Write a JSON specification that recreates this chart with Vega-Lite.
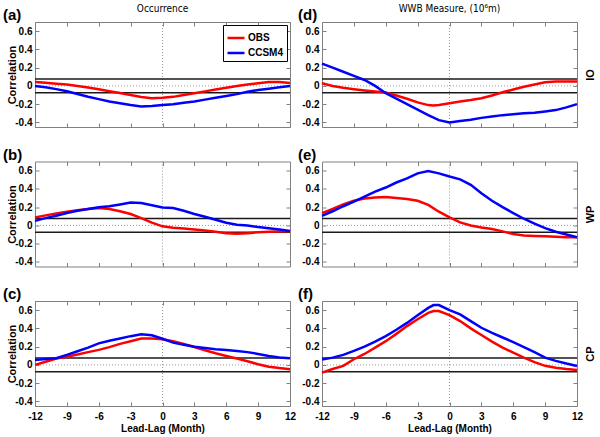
{
"$schema":"https://vega.github.io/schema/vega-lite/v6.json",
"padding":{"left":2,"top":3,"right":2,"bottom":2},
"background":"white",
"config":{"font":"Liberation Sans","view":{"stroke":"#808080","strokeWidth":1},
"axis":{"domain":false,"grid":false,"tickColor":"#808080","tickSize":-4,"tickWidth":1,"labelPadding":7,"labelFontSize":10,"labelFontWeight":"bold","labelColor":"#000","labelFlush":false,"labelOverlap":false,"titleFontWeight":"bold","titleFontSize":11,"titleColor":"#000"},
"axisX":{"labelPadding":9,"titlePadding":2,"titleFontSize":10},
"legend":{"orient":"top-right","offset":3,"padding":3,"strokeColor":"#000","fillColor":"white","symbolType":"stroke","symbolSize":289,"symbolStrokeWidth":2.5,"labelFontSize":10,"labelFontWeight":"bold","labelOffset":2,"rowPadding":0,"labelColor":"#000"}},
"resolve":{"scale":{"color":"independent"},"legend":{"color":"independent"}},
"datasets":{"corr":[
{"p":"a","s":"OBS","x":-12,"y":0.044},{"p":"a","s":"OBS","x":-11,"y":0.035},{"p":"a","s":"OBS","x":-10,"y":0.025},{"p":"a","s":"OBS","x":-9,"y":0.015},{"p":"a","s":"OBS","x":-8,"y":0.0},{"p":"a","s":"OBS","x":-7,"y":-0.018},{"p":"a","s":"OBS","x":-6,"y":-0.036},{"p":"a","s":"OBS","x":-5,"y":-0.058},{"p":"a","s":"OBS","x":-4,"y":-0.078},{"p":"a","s":"OBS","x":-3,"y":-0.1},{"p":"a","s":"OBS","x":-2,"y":-0.122},{"p":"a","s":"OBS","x":-1,"y":-0.135},{"p":"a","s":"OBS","x":0,"y":-0.13},{"p":"a","s":"OBS","x":1,"y":-0.12},{"p":"a","s":"OBS","x":2,"y":-0.1},{"p":"a","s":"OBS","x":3,"y":-0.08},{"p":"a","s":"OBS","x":4,"y":-0.06},{"p":"a","s":"OBS","x":5,"y":-0.04},{"p":"a","s":"OBS","x":6,"y":-0.02},{"p":"a","s":"OBS","x":7,"y":0.0},{"p":"a","s":"OBS","x":8,"y":0.015},{"p":"a","s":"OBS","x":9,"y":0.03},{"p":"a","s":"OBS","x":10,"y":0.044},{"p":"a","s":"OBS","x":11,"y":0.042},{"p":"a","s":"OBS","x":12,"y":0.033},
{"p":"a","s":"CCSM4","x":-12,"y":0.0},{"p":"a","s":"CCSM4","x":-11,"y":-0.015},{"p":"a","s":"CCSM4","x":-10,"y":-0.035},{"p":"a","s":"CCSM4","x":-9,"y":-0.058},{"p":"a","s":"CCSM4","x":-8,"y":-0.088},{"p":"a","s":"CCSM4","x":-7,"y":-0.118},{"p":"a","s":"CCSM4","x":-6,"y":-0.145},{"p":"a","s":"CCSM4","x":-5,"y":-0.17},{"p":"a","s":"CCSM4","x":-4,"y":-0.19},{"p":"a","s":"CCSM4","x":-3,"y":-0.21},{"p":"a","s":"CCSM4","x":-2,"y":-0.225},{"p":"a","s":"CCSM4","x":-1,"y":-0.22},{"p":"a","s":"CCSM4","x":0,"y":-0.21},{"p":"a","s":"CCSM4","x":1,"y":-0.2},{"p":"a","s":"CCSM4","x":2,"y":-0.185},{"p":"a","s":"CCSM4","x":3,"y":-0.17},{"p":"a","s":"CCSM4","x":4,"y":-0.15},{"p":"a","s":"CCSM4","x":5,"y":-0.13},{"p":"a","s":"CCSM4","x":6,"y":-0.11},{"p":"a","s":"CCSM4","x":7,"y":-0.09},{"p":"a","s":"CCSM4","x":8,"y":-0.065},{"p":"a","s":"CCSM4","x":9,"y":-0.045},{"p":"a","s":"CCSM4","x":10,"y":-0.03},{"p":"a","s":"CCSM4","x":11,"y":-0.015},{"p":"a","s":"CCSM4","x":12,"y":0.0},
{"p":"d","s":"OBS","x":-12,"y":0.03},{"p":"d","s":"OBS","x":-11,"y":0.0},{"p":"d","s":"OBS","x":-10,"y":-0.02},{"p":"d","s":"OBS","x":-9,"y":-0.036},{"p":"d","s":"OBS","x":-8,"y":-0.05},{"p":"d","s":"OBS","x":-7,"y":-0.062},{"p":"d","s":"OBS","x":-6,"y":-0.073},{"p":"d","s":"OBS","x":-5,"y":-0.105},{"p":"d","s":"OBS","x":-4,"y":-0.14},{"p":"d","s":"OBS","x":-3,"y":-0.18},{"p":"d","s":"OBS","x":-2,"y":-0.21},{"p":"d","s":"OBS","x":-1.5,"y":-0.215},{"p":"d","s":"OBS","x":-1,"y":-0.21},{"p":"d","s":"OBS","x":0,"y":-0.19},{"p":"d","s":"OBS","x":1,"y":-0.17},{"p":"d","s":"OBS","x":2,"y":-0.155},{"p":"d","s":"OBS","x":3,"y":-0.135},{"p":"d","s":"OBS","x":4,"y":-0.105},{"p":"d","s":"OBS","x":5,"y":-0.07},{"p":"d","s":"OBS","x":6,"y":-0.04},{"p":"d","s":"OBS","x":7,"y":-0.01},{"p":"d","s":"OBS","x":8,"y":0.015},{"p":"d","s":"OBS","x":9,"y":0.04},{"p":"d","s":"OBS","x":10,"y":0.047},{"p":"d","s":"OBS","x":11,"y":0.047},{"p":"d","s":"OBS","x":12,"y":0.047},
{"p":"d","s":"CCSM4","x":-12,"y":0.244},{"p":"d","s":"CCSM4","x":-11,"y":0.2},{"p":"d","s":"CCSM4","x":-10,"y":0.155},{"p":"d","s":"CCSM4","x":-9,"y":0.11},{"p":"d","s":"CCSM4","x":-8,"y":0.065},{"p":"d","s":"CCSM4","x":-7,"y":0.0},{"p":"d","s":"CCSM4","x":-6,"y":-0.08},{"p":"d","s":"CCSM4","x":-5,"y":-0.14},{"p":"d","s":"CCSM4","x":-4,"y":-0.2},{"p":"d","s":"CCSM4","x":-3,"y":-0.26},{"p":"d","s":"CCSM4","x":-2,"y":-0.32},{"p":"d","s":"CCSM4","x":-1,"y":-0.375},{"p":"d","s":"CCSM4","x":0,"y":-0.4},{"p":"d","s":"CCSM4","x":1,"y":-0.385},{"p":"d","s":"CCSM4","x":2,"y":-0.37},{"p":"d","s":"CCSM4","x":3,"y":-0.35},{"p":"d","s":"CCSM4","x":4,"y":-0.335},{"p":"d","s":"CCSM4","x":5,"y":-0.32},{"p":"d","s":"CCSM4","x":6,"y":-0.31},{"p":"d","s":"CCSM4","x":7,"y":-0.3},{"p":"d","s":"CCSM4","x":8,"y":-0.295},{"p":"d","s":"CCSM4","x":9,"y":-0.28},{"p":"d","s":"CCSM4","x":10,"y":-0.265},{"p":"d","s":"CCSM4","x":11,"y":-0.235},{"p":"d","s":"CCSM4","x":12,"y":-0.2},
{"p":"b","s":"OBS","x":-12,"y":0.087},{"p":"b","s":"OBS","x":-11,"y":0.11},{"p":"b","s":"OBS","x":-10,"y":0.13},{"p":"b","s":"OBS","x":-9,"y":0.15},{"p":"b","s":"OBS","x":-8,"y":0.165},{"p":"b","s":"OBS","x":-7,"y":0.18},{"p":"b","s":"OBS","x":-6,"y":0.19},{"p":"b","s":"OBS","x":-5,"y":0.18},{"p":"b","s":"OBS","x":-4,"y":0.155},{"p":"b","s":"OBS","x":-3,"y":0.125},{"p":"b","s":"OBS","x":-2,"y":0.08},{"p":"b","s":"OBS","x":-1,"y":0.03},{"p":"b","s":"OBS","x":0,"y":-0.01},{"p":"b","s":"OBS","x":1,"y":-0.025},{"p":"b","s":"OBS","x":2,"y":-0.035},{"p":"b","s":"OBS","x":3,"y":-0.045},{"p":"b","s":"OBS","x":4,"y":-0.055},{"p":"b","s":"OBS","x":5,"y":-0.07},{"p":"b","s":"OBS","x":6,"y":-0.085},{"p":"b","s":"OBS","x":7,"y":-0.09},{"p":"b","s":"OBS","x":8,"y":-0.085},{"p":"b","s":"OBS","x":9,"y":-0.075},{"p":"b","s":"OBS","x":10,"y":-0.07},{"p":"b","s":"OBS","x":11,"y":-0.068},{"p":"b","s":"OBS","x":12,"y":-0.065},
{"p":"b","s":"CCSM4","x":-12,"y":0.05},{"p":"b","s":"CCSM4","x":-11,"y":0.08},{"p":"b","s":"CCSM4","x":-10,"y":0.105},{"p":"b","s":"CCSM4","x":-9,"y":0.135},{"p":"b","s":"CCSM4","x":-8,"y":0.16},{"p":"b","s":"CCSM4","x":-7,"y":0.18},{"p":"b","s":"CCSM4","x":-6,"y":0.2},{"p":"b","s":"CCSM4","x":-5,"y":0.21},{"p":"b","s":"CCSM4","x":-4,"y":0.23},{"p":"b","s":"CCSM4","x":-3,"y":0.25},{"p":"b","s":"CCSM4","x":-2,"y":0.245},{"p":"b","s":"CCSM4","x":-1,"y":0.22},{"p":"b","s":"CCSM4","x":0,"y":0.196},{"p":"b","s":"CCSM4","x":1,"y":0.19},{"p":"b","s":"CCSM4","x":2,"y":0.16},{"p":"b","s":"CCSM4","x":3,"y":0.125},{"p":"b","s":"CCSM4","x":4,"y":0.095},{"p":"b","s":"CCSM4","x":5,"y":0.062},{"p":"b","s":"CCSM4","x":6,"y":0.03},{"p":"b","s":"CCSM4","x":7,"y":0.007},{"p":"b","s":"CCSM4","x":8,"y":0.0},{"p":"b","s":"CCSM4","x":9,"y":-0.018},{"p":"b","s":"CCSM4","x":10,"y":-0.03},{"p":"b","s":"CCSM4","x":11,"y":-0.045},{"p":"b","s":"CCSM4","x":12,"y":-0.06},
{"p":"e","s":"OBS","x":-12,"y":0.135},{"p":"e","s":"OBS","x":-11,"y":0.18},{"p":"e","s":"OBS","x":-10,"y":0.23},{"p":"e","s":"OBS","x":-9,"y":0.27},{"p":"e","s":"OBS","x":-8,"y":0.295},{"p":"e","s":"OBS","x":-7,"y":0.305},{"p":"e","s":"OBS","x":-6,"y":0.31},{"p":"e","s":"OBS","x":-5,"y":0.3},{"p":"e","s":"OBS","x":-4,"y":0.29},{"p":"e","s":"OBS","x":-3,"y":0.27},{"p":"e","s":"OBS","x":-2,"y":0.225},{"p":"e","s":"OBS","x":-1,"y":0.15},{"p":"e","s":"OBS","x":0,"y":0.087},{"p":"e","s":"OBS","x":1,"y":0.033},{"p":"e","s":"OBS","x":2,"y":0.0},{"p":"e","s":"OBS","x":3,"y":-0.022},{"p":"e","s":"OBS","x":4,"y":-0.04},{"p":"e","s":"OBS","x":5,"y":-0.065},{"p":"e","s":"OBS","x":6,"y":-0.095},{"p":"e","s":"OBS","x":7,"y":-0.11},{"p":"e","s":"OBS","x":8,"y":-0.115},{"p":"e","s":"OBS","x":9,"y":-0.12},{"p":"e","s":"OBS","x":10,"y":-0.125},{"p":"e","s":"OBS","x":11,"y":-0.13},{"p":"e","s":"OBS","x":12,"y":-0.13},
{"p":"e","s":"CCSM4","x":-12,"y":0.105},{"p":"e","s":"CCSM4","x":-11,"y":0.155},{"p":"e","s":"CCSM4","x":-10,"y":0.21},{"p":"e","s":"CCSM4","x":-9,"y":0.26},{"p":"e","s":"CCSM4","x":-8,"y":0.315},{"p":"e","s":"CCSM4","x":-7,"y":0.37},{"p":"e","s":"CCSM4","x":-6,"y":0.415},{"p":"e","s":"CCSM4","x":-5,"y":0.47},{"p":"e","s":"CCSM4","x":-4,"y":0.515},{"p":"e","s":"CCSM4","x":-3,"y":0.57},{"p":"e","s":"CCSM4","x":-2,"y":0.595},{"p":"e","s":"CCSM4","x":-1,"y":0.57},{"p":"e","s":"CCSM4","x":0,"y":0.535},{"p":"e","s":"CCSM4","x":1,"y":0.505},{"p":"e","s":"CCSM4","x":2,"y":0.445},{"p":"e","s":"CCSM4","x":3,"y":0.353},{"p":"e","s":"CCSM4","x":4,"y":0.27},{"p":"e","s":"CCSM4","x":5,"y":0.2},{"p":"e","s":"CCSM4","x":6,"y":0.135},{"p":"e","s":"CCSM4","x":7,"y":0.073},{"p":"e","s":"CCSM4","x":8,"y":0.02},{"p":"e","s":"CCSM4","x":9,"y":-0.03},{"p":"e","s":"CCSM4","x":10,"y":-0.07},{"p":"e","s":"CCSM4","x":11,"y":-0.1},{"p":"e","s":"CCSM4","x":12,"y":-0.13},
{"p":"c","s":"OBS","x":-12,"y":0.0},{"p":"c","s":"OBS","x":-11,"y":0.035},{"p":"c","s":"OBS","x":-10,"y":0.07},{"p":"c","s":"OBS","x":-9,"y":0.09},{"p":"c","s":"OBS","x":-8,"y":0.115},{"p":"c","s":"OBS","x":-7,"y":0.14},{"p":"c","s":"OBS","x":-6,"y":0.165},{"p":"c","s":"OBS","x":-5,"y":0.195},{"p":"c","s":"OBS","x":-4,"y":0.23},{"p":"c","s":"OBS","x":-3,"y":0.26},{"p":"c","s":"OBS","x":-2,"y":0.29},{"p":"c","s":"OBS","x":-1,"y":0.29},{"p":"c","s":"OBS","x":0,"y":0.28},{"p":"c","s":"OBS","x":1,"y":0.26},{"p":"c","s":"OBS","x":2,"y":0.23},{"p":"c","s":"OBS","x":3,"y":0.196},{"p":"c","s":"OBS","x":4,"y":0.16},{"p":"c","s":"OBS","x":5,"y":0.127},{"p":"c","s":"OBS","x":6,"y":0.098},{"p":"c","s":"OBS","x":7,"y":0.07},{"p":"c","s":"OBS","x":8,"y":0.04},{"p":"c","s":"OBS","x":9,"y":0.007},{"p":"c","s":"OBS","x":10,"y":-0.02},{"p":"c","s":"OBS","x":11,"y":-0.035},{"p":"c","s":"OBS","x":12,"y":-0.047},
{"p":"c","s":"CCSM4","x":-12,"y":0.055},{"p":"c","s":"CCSM4","x":-11,"y":0.065},{"p":"c","s":"CCSM4","x":-10,"y":0.073},{"p":"c","s":"CCSM4","x":-9,"y":0.11},{"p":"c","s":"CCSM4","x":-8,"y":0.15},{"p":"c","s":"CCSM4","x":-7,"y":0.19},{"p":"c","s":"CCSM4","x":-6,"y":0.236},{"p":"c","s":"CCSM4","x":-5,"y":0.265},{"p":"c","s":"CCSM4","x":-4,"y":0.29},{"p":"c","s":"CCSM4","x":-3,"y":0.315},{"p":"c","s":"CCSM4","x":-2,"y":0.335},{"p":"c","s":"CCSM4","x":-1,"y":0.325},{"p":"c","s":"CCSM4","x":0,"y":0.287},{"p":"c","s":"CCSM4","x":1,"y":0.244},{"p":"c","s":"CCSM4","x":2,"y":0.22},{"p":"c","s":"CCSM4","x":3,"y":0.2},{"p":"c","s":"CCSM4","x":4,"y":0.185},{"p":"c","s":"CCSM4","x":5,"y":0.171},{"p":"c","s":"CCSM4","x":6,"y":0.164},{"p":"c","s":"CCSM4","x":7,"y":0.152},{"p":"c","s":"CCSM4","x":8,"y":0.14},{"p":"c","s":"CCSM4","x":9,"y":0.12},{"p":"c","s":"CCSM4","x":10,"y":0.098},{"p":"c","s":"CCSM4","x":11,"y":0.08},{"p":"c","s":"CCSM4","x":12,"y":0.073},
{"p":"f","s":"OBS","x":-12,"y":-0.084},{"p":"f","s":"OBS","x":-11,"y":-0.045},{"p":"f","s":"OBS","x":-10,"y":-0.01},{"p":"f","s":"OBS","x":-9,"y":0.062},{"p":"f","s":"OBS","x":-8,"y":0.12},{"p":"f","s":"OBS","x":-7,"y":0.19},{"p":"f","s":"OBS","x":-6,"y":0.26},{"p":"f","s":"OBS","x":-5,"y":0.34},{"p":"f","s":"OBS","x":-4,"y":0.425},{"p":"f","s":"OBS","x":-3,"y":0.5},{"p":"f","s":"OBS","x":-2,"y":0.57},{"p":"f","s":"OBS","x":-1.5,"y":0.59},{"p":"f","s":"OBS","x":-1,"y":0.59},{"p":"f","s":"OBS","x":0,"y":0.545},{"p":"f","s":"OBS","x":1,"y":0.48},{"p":"f","s":"OBS","x":2,"y":0.4},{"p":"f","s":"OBS","x":3,"y":0.327},{"p":"f","s":"OBS","x":4,"y":0.255},{"p":"f","s":"OBS","x":5,"y":0.19},{"p":"f","s":"OBS","x":6,"y":0.135},{"p":"f","s":"OBS","x":7,"y":0.08},{"p":"f","s":"OBS","x":8,"y":0.03},{"p":"f","s":"OBS","x":9,"y":-0.01},{"p":"f","s":"OBS","x":10,"y":-0.03},{"p":"f","s":"OBS","x":11,"y":-0.045},{"p":"f","s":"OBS","x":12,"y":-0.055},
{"p":"f","s":"CCSM4","x":-12,"y":0.058},{"p":"f","s":"CCSM4","x":-11,"y":0.08},{"p":"f","s":"CCSM4","x":-10,"y":0.11},{"p":"f","s":"CCSM4","x":-9,"y":0.153},{"p":"f","s":"CCSM4","x":-8,"y":0.2},{"p":"f","s":"CCSM4","x":-7,"y":0.255},{"p":"f","s":"CCSM4","x":-6,"y":0.316},{"p":"f","s":"CCSM4","x":-5,"y":0.385},{"p":"f","s":"CCSM4","x":-4,"y":0.46},{"p":"f","s":"CCSM4","x":-3,"y":0.545},{"p":"f","s":"CCSM4","x":-2,"y":0.625},{"p":"f","s":"CCSM4","x":-1.5,"y":0.655},{"p":"f","s":"CCSM4","x":-1,"y":0.655},{"p":"f","s":"CCSM4","x":0,"y":0.6},{"p":"f","s":"CCSM4","x":1,"y":0.553},{"p":"f","s":"CCSM4","x":2,"y":0.48},{"p":"f","s":"CCSM4","x":3,"y":0.407},{"p":"f","s":"CCSM4","x":4,"y":0.35},{"p":"f","s":"CCSM4","x":5,"y":0.3},{"p":"f","s":"CCSM4","x":6,"y":0.25},{"p":"f","s":"CCSM4","x":7,"y":0.196},{"p":"f","s":"CCSM4","x":8,"y":0.14},{"p":"f","s":"CCSM4","x":9,"y":0.08},{"p":"f","s":"CCSM4","x":10,"y":0.044},{"p":"f","s":"CCSM4","x":11,"y":0.015},{"p":"f","s":"CCSM4","x":12,"y":-0.011}
]},
"columns":2,
"bounds":"flush",
"spacing":{"row":34.5,"column":32},
"concat":[
{"width":255,"height":105,"resolve":{"axis":{"x":"independent","y":"independent"}},"layer":[
{"data":{"values":[{}]},"mark":{"type":"rule","color":"#9a9a9a","strokeDash":[1,2],"strokeWidth":1},"encoding":{"y":{"datum":0,"type":"quantitative","scale":{"domain":[-0.45,0.7],"nice":false,"zero":false},"axis":{"orient":"right","labels":false,"values":[-0.4,-0.2,0,0.2,0.4,0.6],"title":null}}}},
{"data":{"values":[{}]},"mark":{"type":"rule","color":"#9a9a9a","strokeDash":[1,2],"strokeWidth":1},"encoding":{"x":{"datum":0,"type":"quantitative","scale":{"domain":[-12,12],"nice":false,"zero":false},"axis":{"orient":"top","labels":false,"values":[-12,-9,-6,-3,0,3,6,9,12],"title":null}}}},
{"data":{"values":[{}]},"mark":{"type":"rule","color":"#1a1a1a","strokeWidth":1.5},"encoding":{"y":{"datum":0.075,"type":"quantitative","scale":{"domain":[-0.45,0.7],"nice":false,"zero":false},"axis":null}}},
{"data":{"values":[{}]},"mark":{"type":"rule","color":"#1a1a1a","strokeWidth":1.5},"encoding":{"y":{"datum":-0.075,"type":"quantitative","scale":{"domain":[-0.45,0.7],"nice":false,"zero":false},"axis":null}}},
{"data":{"name":"corr"},"transform":[{"filter":"datum.p==='a'"}],"mark":{"type":"line","strokeWidth":2.5},"encoding":{"x":{"field":"x","type":"quantitative","scale":{"domain":[-12,12],"nice":false,"zero":false},"axis":{"orient":"bottom","labels":false,"values":[-12,-9,-6,-3,0,3,6,9,12],"title":null}},"y":{"field":"y","type":"quantitative","scale":{"domain":[-0.45,0.7],"nice":false,"zero":false},"axis":{"orient":"left","values":[-0.4,-0.2,0,0.2,0.4,0.6],"labelExpr":"toString(datum.value)","title":"Correlation","titleX":-23,"titleBaseline":"middle"}},"color":{"field":"s","type":"nominal","scale":{"domain":["OBS","CCSM4"],"range":["#ff0000","#0000ff"]},"legend":{"title":null}}}},
{"data":{"values":[{}]},"mark":{"type":"text","text":"(a)","align":"left","baseline":"middle","dx":-32,"dy":-7,"fontSize":15,"fontWeight":"bold"},"encoding":{"x":{"datum":-12,"type":"quantitative","scale":{"domain":[-12,12],"nice":false,"zero":false},"axis":null},"y":{"datum":0.7,"type":"quantitative","scale":{"domain":[-0.45,0.7],"nice":false,"zero":false},"axis":null}}},
{"data":{"values":[{}]},"mark":{"type":"text","text":"Occurrence","align":"center","baseline":"bottom","dy":-8,"fontSize":10,"font":"DejaVu Sans Condensed"},"encoding":{"x":{"datum":0,"type":"quantitative","scale":{"domain":[-12,12],"nice":false,"zero":false},"axis":null},"y":{"datum":0.7,"type":"quantitative","scale":{"domain":[-0.45,0.7],"nice":false,"zero":false},"axis":null}}}
]},
{"width":255,"height":105,"resolve":{"axis":{"x":"independent","y":"independent"}},"layer":[
{"data":{"values":[{}]},"mark":{"type":"rule","color":"#9a9a9a","strokeDash":[1,2],"strokeWidth":1},"encoding":{"y":{"datum":0,"type":"quantitative","scale":{"domain":[-0.45,0.7],"nice":false,"zero":false},"axis":{"orient":"right","labels":false,"values":[-0.4,-0.2,0,0.2,0.4,0.6],"title":"IO","titleX":13.5,"titleAngle":270,"titleBaseline":"middle"}}}},
{"data":{"values":[{}]},"mark":{"type":"rule","color":"#9a9a9a","strokeDash":[1,2],"strokeWidth":1},"encoding":{"x":{"datum":0,"type":"quantitative","scale":{"domain":[-12,12],"nice":false,"zero":false},"axis":{"orient":"top","labels":false,"values":[-12,-9,-6,-3,0,3,6,9,12],"title":null}}}},
{"data":{"values":[{}]},"mark":{"type":"rule","color":"#1a1a1a","strokeWidth":1.5},"encoding":{"y":{"datum":0.075,"type":"quantitative","scale":{"domain":[-0.45,0.7],"nice":false,"zero":false},"axis":null}}},
{"data":{"values":[{}]},"mark":{"type":"rule","color":"#1a1a1a","strokeWidth":1.5},"encoding":{"y":{"datum":-0.075,"type":"quantitative","scale":{"domain":[-0.45,0.7],"nice":false,"zero":false},"axis":null}}},
{"data":{"name":"corr"},"transform":[{"filter":"datum.p==='d'"}],"mark":{"type":"line","strokeWidth":2.5},"encoding":{"x":{"field":"x","type":"quantitative","scale":{"domain":[-12,12],"nice":false,"zero":false},"axis":{"orient":"bottom","labels":false,"values":[-12,-9,-6,-3,0,3,6,9,12],"title":null}},"y":{"field":"y","type":"quantitative","scale":{"domain":[-0.45,0.7],"nice":false,"zero":false},"axis":{"orient":"left","values":[-0.4,-0.2,0,0.2,0.4,0.6],"labelExpr":"toString(datum.value)","title":null}},"color":{"field":"s","type":"nominal","scale":{"domain":["OBS","CCSM4"],"range":["#ff0000","#0000ff"]},"legend":null}}},
{"data":{"values":[{}]},"mark":{"type":"text","text":"(d)","align":"left","baseline":"middle","dx":-24,"dy":-7,"fontSize":15,"fontWeight":"bold"},"encoding":{"x":{"datum":-12,"type":"quantitative","scale":{"domain":[-12,12],"nice":false,"zero":false},"axis":null},"y":{"datum":0.7,"type":"quantitative","scale":{"domain":[-0.45,0.7],"nice":false,"zero":false},"axis":null}}},
{"data":{"values":[{}]},"mark":{"type":"text","text":"WWB Measure, (10⁶m)","align":"center","baseline":"bottom","dy":-8,"fontSize":10,"font":"DejaVu Sans Condensed"},"encoding":{"x":{"datum":0,"type":"quantitative","scale":{"domain":[-12,12],"nice":false,"zero":false},"axis":null},"y":{"datum":0.7,"type":"quantitative","scale":{"domain":[-0.45,0.7],"nice":false,"zero":false},"axis":null}}}
]},
{"width":255,"height":105,"resolve":{"axis":{"x":"independent","y":"independent"}},"layer":[
{"data":{"values":[{}]},"mark":{"type":"rule","color":"#9a9a9a","strokeDash":[1,2],"strokeWidth":1},"encoding":{"y":{"datum":0,"type":"quantitative","scale":{"domain":[-0.45,0.7],"nice":false,"zero":false},"axis":{"orient":"right","labels":false,"values":[-0.4,-0.2,0,0.2,0.4,0.6],"title":null}}}},
{"data":{"values":[{}]},"mark":{"type":"rule","color":"#9a9a9a","strokeDash":[1,2],"strokeWidth":1},"encoding":{"x":{"datum":0,"type":"quantitative","scale":{"domain":[-12,12],"nice":false,"zero":false},"axis":{"orient":"top","labels":false,"values":[-12,-9,-6,-3,0,3,6,9,12],"title":null}}}},
{"data":{"values":[{}]},"mark":{"type":"rule","color":"#1a1a1a","strokeWidth":1.5},"encoding":{"y":{"datum":0.075,"type":"quantitative","scale":{"domain":[-0.45,0.7],"nice":false,"zero":false},"axis":null}}},
{"data":{"values":[{}]},"mark":{"type":"rule","color":"#1a1a1a","strokeWidth":1.5},"encoding":{"y":{"datum":-0.075,"type":"quantitative","scale":{"domain":[-0.45,0.7],"nice":false,"zero":false},"axis":null}}},
{"data":{"name":"corr"},"transform":[{"filter":"datum.p==='b'"}],"mark":{"type":"line","strokeWidth":2.5},"encoding":{"x":{"field":"x","type":"quantitative","scale":{"domain":[-12,12],"nice":false,"zero":false},"axis":{"orient":"bottom","labels":false,"values":[-12,-9,-6,-3,0,3,6,9,12],"title":null}},"y":{"field":"y","type":"quantitative","scale":{"domain":[-0.45,0.7],"nice":false,"zero":false},"axis":{"orient":"left","values":[-0.4,-0.2,0,0.2,0.4,0.6],"labelExpr":"toString(datum.value)","title":"Correlation","titleX":-23,"titleBaseline":"middle"}},"color":{"field":"s","type":"nominal","scale":{"domain":["OBS","CCSM4"],"range":["#ff0000","#0000ff"]},"legend":null}}},
{"data":{"values":[{}]},"mark":{"type":"text","text":"(b)","align":"left","baseline":"middle","dx":-32,"dy":-7,"fontSize":15,"fontWeight":"bold"},"encoding":{"x":{"datum":-12,"type":"quantitative","scale":{"domain":[-12,12],"nice":false,"zero":false},"axis":null},"y":{"datum":0.7,"type":"quantitative","scale":{"domain":[-0.45,0.7],"nice":false,"zero":false},"axis":null}}}
]},
{"width":255,"height":105,"resolve":{"axis":{"x":"independent","y":"independent"}},"layer":[
{"data":{"values":[{}]},"mark":{"type":"rule","color":"#9a9a9a","strokeDash":[1,2],"strokeWidth":1},"encoding":{"y":{"datum":0,"type":"quantitative","scale":{"domain":[-0.45,0.7],"nice":false,"zero":false},"axis":{"orient":"right","labels":false,"values":[-0.4,-0.2,0,0.2,0.4,0.6],"title":"WP","titleX":13.5,"titleAngle":270,"titleBaseline":"middle"}}}},
{"data":{"values":[{}]},"mark":{"type":"rule","color":"#9a9a9a","strokeDash":[1,2],"strokeWidth":1},"encoding":{"x":{"datum":0,"type":"quantitative","scale":{"domain":[-12,12],"nice":false,"zero":false},"axis":{"orient":"top","labels":false,"values":[-12,-9,-6,-3,0,3,6,9,12],"title":null}}}},
{"data":{"values":[{}]},"mark":{"type":"rule","color":"#1a1a1a","strokeWidth":1.5},"encoding":{"y":{"datum":0.075,"type":"quantitative","scale":{"domain":[-0.45,0.7],"nice":false,"zero":false},"axis":null}}},
{"data":{"values":[{}]},"mark":{"type":"rule","color":"#1a1a1a","strokeWidth":1.5},"encoding":{"y":{"datum":-0.075,"type":"quantitative","scale":{"domain":[-0.45,0.7],"nice":false,"zero":false},"axis":null}}},
{"data":{"name":"corr"},"transform":[{"filter":"datum.p==='e'"}],"mark":{"type":"line","strokeWidth":2.5},"encoding":{"x":{"field":"x","type":"quantitative","scale":{"domain":[-12,12],"nice":false,"zero":false},"axis":{"orient":"bottom","labels":false,"values":[-12,-9,-6,-3,0,3,6,9,12],"title":null}},"y":{"field":"y","type":"quantitative","scale":{"domain":[-0.45,0.7],"nice":false,"zero":false},"axis":{"orient":"left","values":[-0.4,-0.2,0,0.2,0.4,0.6],"labelExpr":"toString(datum.value)","title":null}},"color":{"field":"s","type":"nominal","scale":{"domain":["OBS","CCSM4"],"range":["#ff0000","#0000ff"]},"legend":null}}},
{"data":{"values":[{}]},"mark":{"type":"text","text":"(e)","align":"left","baseline":"middle","dx":-24,"dy":-7,"fontSize":15,"fontWeight":"bold"},"encoding":{"x":{"datum":-12,"type":"quantitative","scale":{"domain":[-12,12],"nice":false,"zero":false},"axis":null},"y":{"datum":0.7,"type":"quantitative","scale":{"domain":[-0.45,0.7],"nice":false,"zero":false},"axis":null}}}
]},
{"width":255,"height":105,"resolve":{"axis":{"x":"independent","y":"independent"}},"layer":[
{"data":{"values":[{}]},"mark":{"type":"rule","color":"#9a9a9a","strokeDash":[1,2],"strokeWidth":1},"encoding":{"y":{"datum":0,"type":"quantitative","scale":{"domain":[-0.45,0.7],"nice":false,"zero":false},"axis":{"orient":"right","labels":false,"values":[-0.4,-0.2,0,0.2,0.4,0.6],"title":null}}}},
{"data":{"values":[{}]},"mark":{"type":"rule","color":"#9a9a9a","strokeDash":[1,2],"strokeWidth":1},"encoding":{"x":{"datum":0,"type":"quantitative","scale":{"domain":[-12,12],"nice":false,"zero":false},"axis":{"orient":"top","labels":false,"values":[-12,-9,-6,-3,0,3,6,9,12],"title":null}}}},
{"data":{"values":[{}]},"mark":{"type":"rule","color":"#1a1a1a","strokeWidth":1.5},"encoding":{"y":{"datum":0.075,"type":"quantitative","scale":{"domain":[-0.45,0.7],"nice":false,"zero":false},"axis":null}}},
{"data":{"values":[{}]},"mark":{"type":"rule","color":"#1a1a1a","strokeWidth":1.5},"encoding":{"y":{"datum":-0.075,"type":"quantitative","scale":{"domain":[-0.45,0.7],"nice":false,"zero":false},"axis":null}}},
{"data":{"name":"corr"},"transform":[{"filter":"datum.p==='c'"}],"mark":{"type":"line","strokeWidth":2.5},"encoding":{"x":{"field":"x","type":"quantitative","scale":{"domain":[-12,12],"nice":false,"zero":false},"axis":{"orient":"bottom","values":[-12,-9,-6,-3,0,3,6,9,12],"labelExpr":"toString(datum.value)","title":"Lead-Lag (Month)"}},"y":{"field":"y","type":"quantitative","scale":{"domain":[-0.45,0.7],"nice":false,"zero":false},"axis":{"orient":"left","values":[-0.4,-0.2,0,0.2,0.4,0.6],"labelExpr":"toString(datum.value)","title":"Correlation","titleX":-23,"titleBaseline":"middle"}},"color":{"field":"s","type":"nominal","scale":{"domain":["OBS","CCSM4"],"range":["#ff0000","#0000ff"]},"legend":null}}},
{"data":{"values":[{}]},"mark":{"type":"text","text":"(c)","align":"left","baseline":"middle","dx":-32,"dy":-7,"fontSize":15,"fontWeight":"bold"},"encoding":{"x":{"datum":-12,"type":"quantitative","scale":{"domain":[-12,12],"nice":false,"zero":false},"axis":null},"y":{"datum":0.7,"type":"quantitative","scale":{"domain":[-0.45,0.7],"nice":false,"zero":false},"axis":null}}}
]},
{"width":255,"height":105,"resolve":{"axis":{"x":"independent","y":"independent"}},"layer":[
{"data":{"values":[{}]},"mark":{"type":"rule","color":"#9a9a9a","strokeDash":[1,2],"strokeWidth":1},"encoding":{"y":{"datum":0,"type":"quantitative","scale":{"domain":[-0.45,0.7],"nice":false,"zero":false},"axis":{"orient":"right","labels":false,"values":[-0.4,-0.2,0,0.2,0.4,0.6],"title":"CP","titleX":13.5,"titleAngle":270,"titleBaseline":"middle"}}}},
{"data":{"values":[{}]},"mark":{"type":"rule","color":"#9a9a9a","strokeDash":[1,2],"strokeWidth":1},"encoding":{"x":{"datum":0,"type":"quantitative","scale":{"domain":[-12,12],"nice":false,"zero":false},"axis":{"orient":"top","labels":false,"values":[-12,-9,-6,-3,0,3,6,9,12],"title":null}}}},
{"data":{"values":[{}]},"mark":{"type":"rule","color":"#1a1a1a","strokeWidth":1.5},"encoding":{"y":{"datum":0.075,"type":"quantitative","scale":{"domain":[-0.45,0.7],"nice":false,"zero":false},"axis":null}}},
{"data":{"values":[{}]},"mark":{"type":"rule","color":"#1a1a1a","strokeWidth":1.5},"encoding":{"y":{"datum":-0.075,"type":"quantitative","scale":{"domain":[-0.45,0.7],"nice":false,"zero":false},"axis":null}}},
{"data":{"name":"corr"},"transform":[{"filter":"datum.p==='f'"}],"mark":{"type":"line","strokeWidth":2.5},"encoding":{"x":{"field":"x","type":"quantitative","scale":{"domain":[-12,12],"nice":false,"zero":false},"axis":{"orient":"bottom","values":[-12,-9,-6,-3,0,3,6,9,12],"labelExpr":"toString(datum.value)","title":"Lead-Lag (Month)"}},"y":{"field":"y","type":"quantitative","scale":{"domain":[-0.45,0.7],"nice":false,"zero":false},"axis":{"orient":"left","values":[-0.4,-0.2,0,0.2,0.4,0.6],"labelExpr":"toString(datum.value)","title":null}},"color":{"field":"s","type":"nominal","scale":{"domain":["OBS","CCSM4"],"range":["#ff0000","#0000ff"]},"legend":null}}},
{"data":{"values":[{}]},"mark":{"type":"text","text":"(f)","align":"left","baseline":"middle","dx":-24,"dy":-7,"fontSize":15,"fontWeight":"bold"},"encoding":{"x":{"datum":-12,"type":"quantitative","scale":{"domain":[-12,12],"nice":false,"zero":false},"axis":null},"y":{"datum":0.7,"type":"quantitative","scale":{"domain":[-0.45,0.7],"nice":false,"zero":false},"axis":null}}}
]}
]
}
